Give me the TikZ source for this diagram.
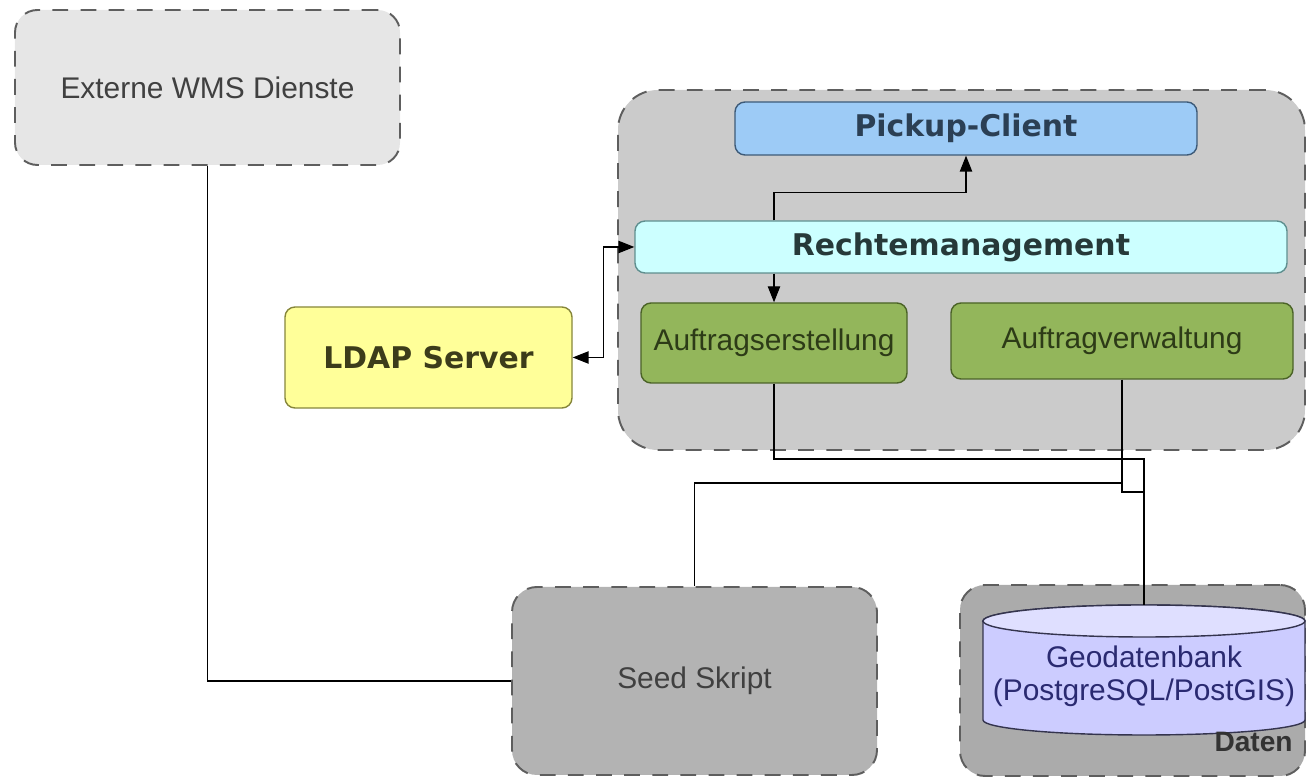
\documentclass[tikz,border=0pt]{standalone}
\usepackage{fontspec}
\setmainfont{Liberation Sans}
\newfontfamily\headfont{DejaVu Sans}
\usetikzlibrary{arrows.meta,positioning,calc,backgrounds}
\definecolor{ink}{HTML}{404040}
\definecolor{zoneline}{HTML}{5E5E5E}
\definecolor{extfill}{HTML}{E6E6E6}
\definecolor{appfill}{HTML}{CBCBCB}
\definecolor{seedfill}{HTML}{B3B3B3}
\definecolor{datafill}{HTML}{ABABAB}
\definecolor{clientfill}{HTML}{9DCBF6}
\definecolor{clientline}{HTML}{3D5A78}
\definecolor{rightsfill}{HTML}{CCFFFF}
\definecolor{rightsline}{HTML}{5F8F8F}
\definecolor{jobfill}{HTML}{93B65B}
\definecolor{jobline}{HTML}{4B6327}
\definecolor{ldapfill}{HTML}{FFFF99}
\definecolor{ldapline}{HTML}{86863A}
\definecolor{dbfill}{HTML}{CCCCFF}
\definecolor{dbtop}{HTML}{DFDFFF}
\definecolor{dbline}{HTML}{34344E}

\begin{document}
\begin{tikzpicture}[
  font=\fontsize{17}{18.8}\selectfont,
  >={Triangle[length=9pt,width=7pt]},
  link/.style={draw=black,line width=0.6pt},
  arrow/.style={link,->},
  biarrow/.style={link,<->},
  zone/.style={draw=zoneline,dash pattern=on 9pt off 7pt,line width=1.1pt,
               inner sep=0pt,text=ink},
  ext/.style={zone,fill=extfill,rounded corners=0.45cm},
  seedzone/.style={zone,fill=seedfill,rounded corners=0.5cm},
  datazone/.style={zone,fill=datafill,rounded corners=0.5cm},
  appzone/.style={zone,fill=appfill,rounded corners=0.8cm},
  box/.style={rounded corners=0.2cm,line width=0.8pt,inner sep=0pt,align=center},
  title/.style={font=\fontsize{17}{18.8}\selectfont\headfont\bfseries},
  clientbox/.style={box,title,fill=clientfill,draw=clientline,text=clientline!70!black},
  rightsbox/.style={box,title,fill=rightsfill,draw=rightsline,text=rightsline!40!black},
  jobbox/.style={box,fill=jobfill,draw=jobline,text=jobline!60!black},
  ldapbox/.style={box,title,fill=ldapfill,draw=ldapline,text=ldapline!45!black},
  dbshape/.style={draw=dbline,line width=0.8pt},
  dbtext/.style={align=center,text=dbline!80!blue,inner sep=0pt},
  tag/.style={font=\fontsize{16}{18}\selectfont\bfseries,text=black!80,inner sep=0pt}
]
\useasboundingbox (0,0) rectangle (26.14,15.56);

% External services
\node[ext,minimum width=7.7cm,minimum height=3.1cm] (wms) at (4.15,13.81)
  {Externe WMS Dienste};
\node[ldapbox,minimum width=5.74cm,minimum height=2.02cm] (ldap) at (8.57,8.41)
  {LDAP Server};

% Pickup application
\node[clientbox,minimum width=9.24cm,minimum height=1.06cm] (pickup) at (19.32,12.99)
  {Pickup-Client};
\node[rightsbox,minimum width=13.04cm,minimum height=1.04cm] (recht) at (19.22,10.62)
  {Rechtemanagement};
\node[jobbox,minimum width=5.32cm,minimum height=1.6cm] (erst) at (15.48,8.70)
  {Auftragserstellung};
\node[jobbox,minimum width=6.84cm,minimum height=1.52cm] (verw) at (22.44,8.74)
  {Auftragverwaltung};

\begin{scope}[on background layer]
  \node[appzone,minimum width=13.74cm,minimum height=7.2cm] (app) at (19.23,10.16) {};
\end{scope}

% Seeding and data
\node[seedzone,minimum width=7.3cm,minimum height=3.76cm] (seed) at (13.89,1.94)
  {Seed Skript};
\node[datazone,minimum width=6.9cm,minimum height=3.82cm] (daten) at (22.65,1.95) {};

% database cylinder
\path[dbshape,fill=dbfill] (19.66,3.14) -- (19.66,1.16)
  arc[start angle=180,end angle=360,x radius=3.22cm,y radius=0.30cm]
  -- (26.10,3.14)
  arc[start angle=0,end angle=180,x radius=3.22cm,y radius=0.32cm] -- cycle;
\draw[dbshape,fill=dbtop] (22.88,3.14) ellipse[x radius=3.22cm,y radius=0.32cm];
\coordinate (geotop) at (22.88,3.46);
\node[dbtext] (geo) at (22.88,2.03) {Geodatenbank\\(PostgreSQL/PostGIS)};
\node[tag,anchor=south east] (dlabel) at (25.86,0.52) {Daten};

% Connectors
\draw[link] (wms.south) |- (seed.west);
\draw[link] (seed.north) |- (verw.south |- 0,5.90);
\draw[link] (erst.south) |- (geotop |- 0,6.38) -- (geotop);
\draw[link] (verw.south) |- (geotop |- 0,5.72) -- (geotop);
\draw[arrow] (recht.north -| erst.north) -- ++(0,0.56) -| (pickup.south);
\draw[arrow] (recht.south -| erst.north) -- (erst.north);
\draw[biarrow] (ldap.east) -- ++(0.62,0) |- (recht.west);

\end{tikzpicture}
\end{document}
